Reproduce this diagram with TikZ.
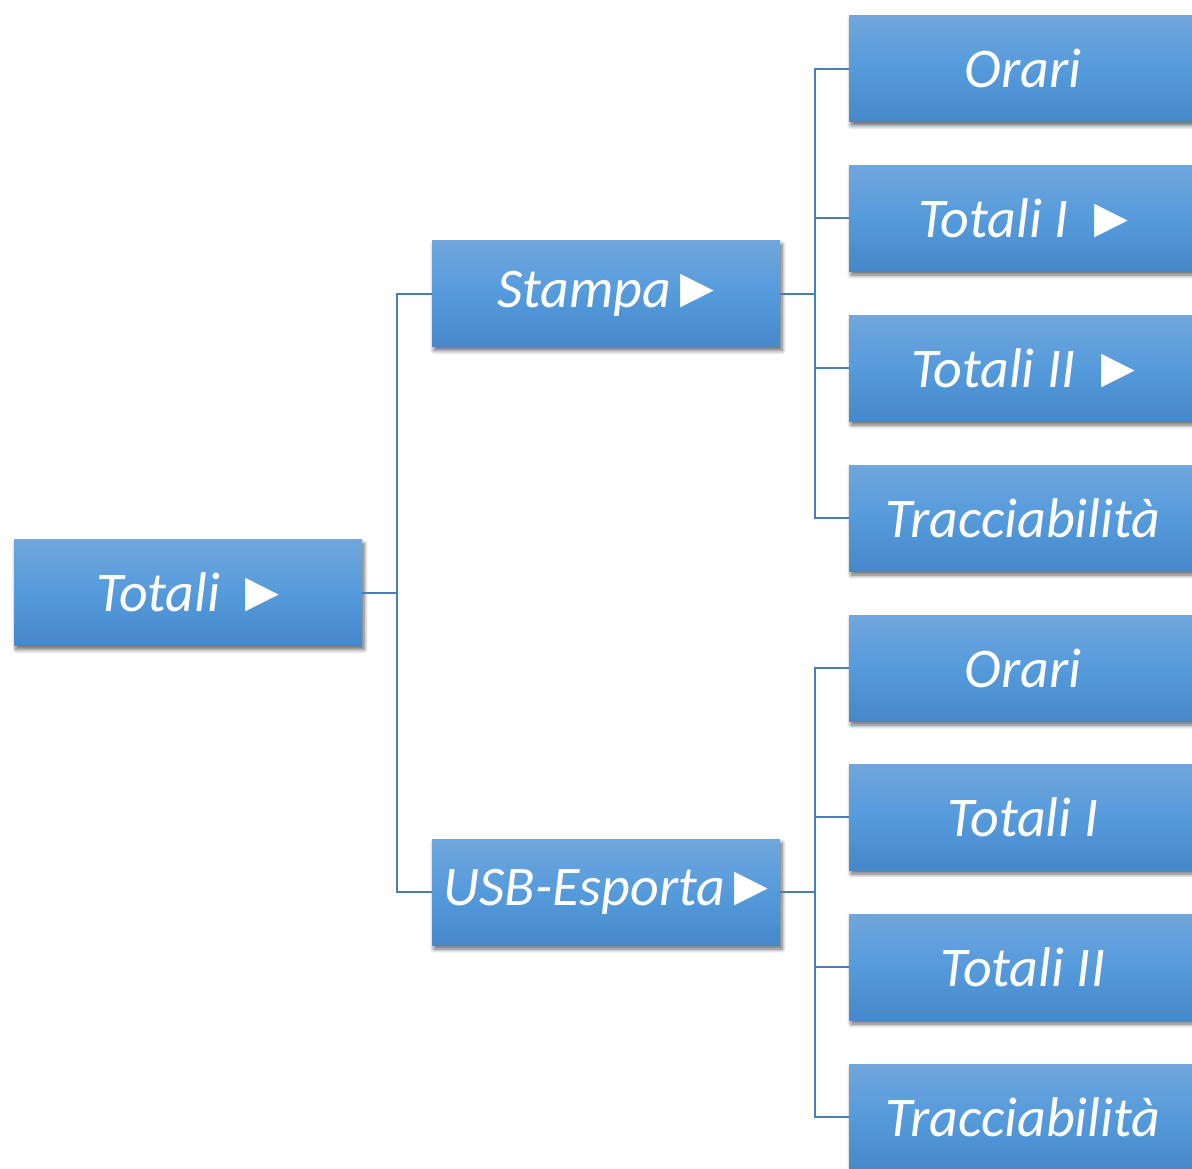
\documentclass[tikz,border=0pt]{standalone}
\usepackage{fontspec}
\setmainfont{Carlito}
\newfontfamily\dejavu{DejaVu Sans}
\usetikzlibrary{shadows.blur}
\definecolor{boxtop}{HTML}{70A6DC}
\definecolor{boxmid}{HTML}{559BDC}
\definecolor{boxbot}{HTML}{4688C9}
\definecolor{linec}{HTML}{4A7EBB}
\newcommand{\tri}{\raisebox{5pt}{\dejavu\fontsize{44}{46}\selectfont ▶}}
\tikzset{
  box/.style={rectangle, minimum width=348pt, minimum height=106pt, inner sep=0pt,
    top color=boxtop, bottom color=boxbot, middle color=boxmid,
    text=white, font=\itshape\fontsize{56}{60}\selectfont,
    blur shadow={shadow xshift=2pt, shadow yshift=-4pt, shadow blur radius=4pt, shadow blur steps=6, shadow opacity=60}},
  conn/.style={draw=linec, line width=2pt}
}
\begin{document}
\begin{tikzpicture}[x=1pt,y=-1pt]
\useasboundingbox (0,0) rectangle (1192,1168);
\clip (0,0) rectangle (1192,1168);
\coordinate (j1) at (397,592.5);
\coordinate (j2) at (815,293.5);
\coordinate (j3) at (815,892);
\node[box] (tot) at (188,592.5) {Totali\ \ \tri};
\node[box] (st) at (606,293.5) {Stampa\,\tri};
\node[box] (usb) at (606,892) {USB-Esporta\,\tri};
\node[box] (a1) at (1023,68.5) {Orari};
\node[box] (a2) at (1023,218) {Totali I\ \ \tri};
\node[box] (a3) at (1023,368) {Totali II\ \ \tri};
\node[box] (a4) at (1023,518) {Tracciabilità};
\node[box] (b1) at (1023,668) {Orari};
\node[box] (b2) at (1023,817) {Totali I};
\node[box] (b3) at (1023,967) {Totali II};
\node[box] (b4) at (1023,1117) {Tracciabilità};
\draw[conn] (tot.east) -- (j1);
\draw[conn] (j1) |- (st.west);
\draw[conn] (j1) |- (usb.west);
\draw[conn] (st.east) -- (j2);
\draw[conn] (usb.east) -- (j3);
\foreach \n in {a1,a2,a3,a4}{\draw[conn] (j2) |- (\n.west);}
\foreach \n in {b1,b2,b3,b4}{\draw[conn] (j3) |- (\n.west);}
\end{tikzpicture}
\end{document}
